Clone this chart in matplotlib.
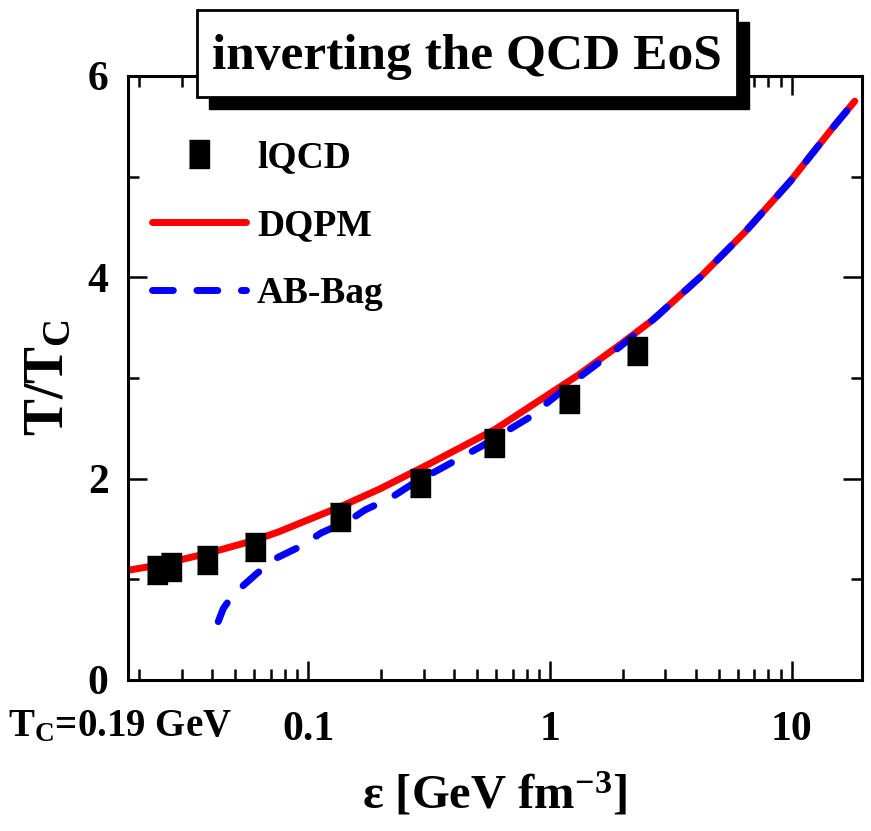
import numpy as np
import matplotlib
matplotlib.use("Agg")
import matplotlib.pyplot as plt
from matplotlib.patches import Rectangle
from matplotlib.ticker import FixedLocator, FixedFormatter, MultipleLocator, LogLocator, NullFormatter

# ---- data ----
lqcd_eps = [0.0238, 0.0272, 0.0383, 0.0604, 0.1355, 0.290, 0.587, 1.20, 2.29]
lqcd_t = [1.09, 1.12, 1.19, 1.32, 1.62, 1.96, 2.35, 2.79, 3.27]

dqpm_eps = [0.0180, 0.0238, 0.0387, 0.0604, 0.0752, 0.1355, 0.1986, 0.313,
            0.593, 1.31, 1.945, 2.67, 4.17, 6.40, 9.82, 14.8, 18.2]
dqpm_t = [1.09, 1.14, 1.26, 1.39, 1.47, 1.72, 1.90, 2.14,
          2.49, 3.03, 3.33, 3.58, 4.00, 4.45, 4.95, 5.49, 5.75]

ab_eps = [0.0425, 0.0446, 0.049, 0.0615, 0.0738, 0.0935, 0.113, 0.149, 0.172,
          0.220, 0.267, 0.519, 0.811, 1.31, 1.945, 2.67, 4.17, 6.40, 9.82, 14.8, 18.2]
ab_t = [0.58, 0.71, 0.85, 1.06, 1.21, 1.33, 1.46, 1.59, 1.69,
        1.81, 1.94, 2.32, 2.60, 3.00, 3.31, 3.58, 4.00, 4.45, 4.95, 5.49, 5.75]

x_ticks = [0.1, 1, 10]
x_ticklabels = ["0.1", "1", "10"]
y_ticks = [0, 2, 4, 6]

plt.rcParams["font.family"] = ["Liberation Serif", "DejaVu Serif"]
plt.rcParams["font.weight"] = "bold"
plt.rcParams["axes.labelweight"] = "bold"
plt.rcParams["mathtext.fontset"] = "custom"
plt.rcParams["mathtext.rm"] = "Liberation Serif:bold"
plt.rcParams["mathtext.it"] = "Liberation Serif:bold"
plt.rcParams["mathtext.bf"] = "Liberation Serif:bold"

W, H = 871, 831
fig = plt.figure(figsize=(W / 100, H / 100), dpi=100)
ax = fig.add_axes([128 / W, 1 - 680 / H, (862 - 128) / W, (680 - 76) / H])

rect_marker = [(-0.72, -1), (0.72, -1), (0.72, 1), (-0.72, 1)]

ax.plot(dqpm_eps, dqpm_t, color="#ff0000", lw=5, solid_capstyle="round",
        solid_joinstyle="round", label="DQPM", zorder=2)
ax.plot(ab_eps, ab_t, color="#0000ff", lw=5, dashes=(3.0, 3.4),
        dash_capstyle="round", dash_joinstyle="round", label="AB-Bag", zorder=3)
ax.plot(lqcd_eps, lqcd_t, ls="none", marker=rect_marker, markersize=20,
        color="black", label="lQCD", zorder=4)

ax.set_xscale("log")
ax.set_xlim(0.018, 19.5)
ax.set_ylim(0, 6)

ax.xaxis.set_major_locator(FixedLocator(x_ticks))
ax.xaxis.set_major_formatter(FixedFormatter(x_ticklabels))
ax.xaxis.set_minor_locator(LogLocator(base=10, subs=np.arange(2, 10)))
ax.xaxis.set_minor_formatter(NullFormatter())
ax.yaxis.set_major_locator(FixedLocator(y_ticks))
ax.yaxis.set_minor_locator(MultipleLocator(1))

for s in ax.spines.values():
    s.set_linewidth(2.2)
ax.tick_params(which="both", direction="in", top=True, right=True, width=1.8)
ax.tick_params(which="major", length=14)
ax.tick_params(which="minor", length=8)
ax.tick_params(axis="x", which="major", labelsize=30, pad=22)
ax.tick_params(axis="y", which="major", labelsize=30, pad=14)

ax.set_xlabel(r"ε [GeV fm$^{-3}$]", fontsize=35, labelpad=16)
ax.set_ylabel(r"T/T$_{\rm C}$", fontsize=40)
ax.yaxis.set_label_coords(-0.072, 0.5)

fig.text(8 / W, 1 - 727 / H, r"T$_{\rm C}$=0.19 GeV", fontsize=28,
         ha="left", va="center")

h = ax.get_legend_handles_labels()
order = [2, 0, 1]
ax.legend([h[0][i] for i in order], [h[1][i] for i in order],
          loc="upper left", bbox_to_anchor=(24 / 734, 1 - 64 / 604),
          frameon=False, fontsize=27, handlelength=2.5, handletextpad=0.3,
          labelspacing=0.88, borderpad=0, borderaxespad=0, markerscale=1.0)

# title box with drop shadow
bx0, bx1, by0, by1 = 197, 737, 10, 97
off = 12
fig.add_artist(Rectangle(((bx0 + off) / W, 1 - (by1 + off) / H),
                         (bx1 - bx0) / W, (by1 - by0) / H,
                         transform=fig.transFigure, facecolor="black",
                         edgecolor="black", zorder=10))
fig.add_artist(Rectangle((bx0 / W, 1 - by1 / H), (bx1 - bx0) / W, (by1 - by0) / H,
                         transform=fig.transFigure, facecolor="white",
                         edgecolor="black", lw=2, zorder=11))
fig.text((bx0 + bx1) / 2 / W, 1 - 57 / H, "inverting the QCD EoS", fontsize=37,
         ha="center", va="center", zorder=12)

fig.savefig("out.png", dpi=100)
